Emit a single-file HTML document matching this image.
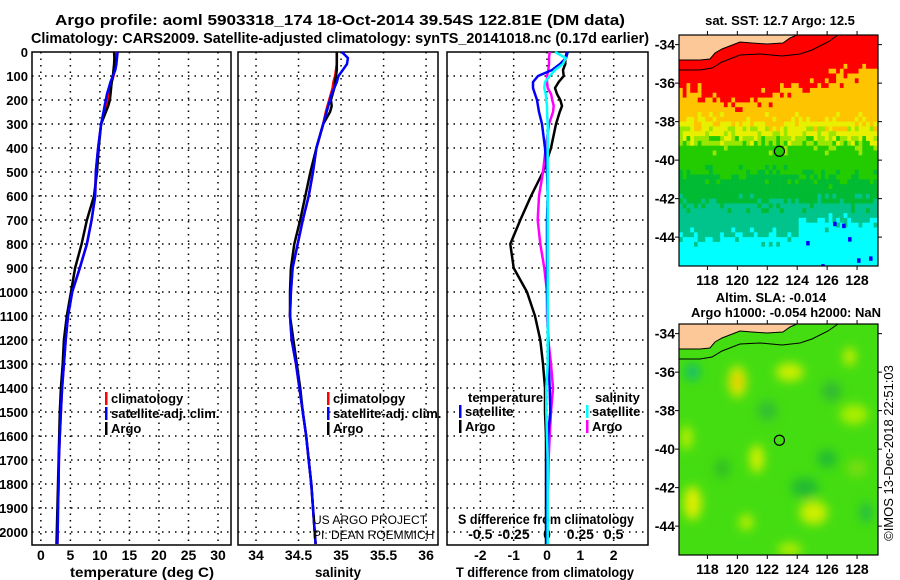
<!DOCTYPE html>
<html><head><meta charset="utf-8"><style>
html,body{margin:0;padding:0;background:#fff;}
svg{display:block;font-family:"Liberation Sans",Arial,sans-serif;}
.b{font-weight:bold;}
</style></head><body>
<svg id="c" width="900" height="580" viewBox="0 0 900 580"></svg>
<script>
const depths=[0,25,50,75,100,125,150,175,200,225,250,300,400,500,600,700,800,900,1000,1100,1200,1300,1400,1500,1600,1700,1800,1900,2000,2050];
const tempArgo=[12.4,12.45,12.4,12.3,12.2,12.0,11.9,11.8,11.7,11.4,11.0,10.2,9.8,9.5,9.0,7.8,6.9,5.8,5.1,4.4,3.9,3.7,3.4,3.2,3.1,3.0,2.9,2.8,2.7,2.65];
const tempClim=[12.8,12.7,12.6,12.5,12.3,12.0,11.8,11.6,11.3,11.0,10.8,10.2,9.7,9.3,9.2,8.6,7.8,6.6,5.3,4.6,4.2,3.9,3.6,3.4,3.2,3.05,3.0,2.9,2.85,2.8];
const tempSat=[13.0,12.9,12.8,12.6,12.2,11.8,11.5,11.2,11.0,10.8,10.6,10.2,9.7,9.3,9.2,8.6,7.8,6.6,5.3,4.6,4.2,3.9,3.6,3.4,3.2,3.05,3.0,2.9,2.85,2.8];
const salArgo=[34.95,34.95,34.95,34.95,34.94,34.93,34.92,34.90,34.88,34.89,34.87,34.79,34.71,34.64,34.58,34.52,34.45,34.41,34.40,34.40,34.44,34.48,34.52,34.55,34.59,34.62,34.65,34.67,34.69,34.70];
const salClim=[34.95,34.95,34.95,34.94,34.93,34.91,34.90,34.88,34.86,34.84,34.82,34.79,34.71,34.67,34.62,34.55,34.49,34.43,34.41,34.40,34.42,34.47,34.51,34.55,34.59,34.62,34.65,34.67,34.69,34.70];
const salSat=[35.01,35.08,35.07,35.02,34.97,34.95,34.92,34.89,34.87,34.85,34.83,34.79,34.71,34.67,34.62,34.55,34.49,34.43,34.41,34.40,34.42,34.47,34.51,34.55,34.59,34.62,34.65,34.67,34.69,34.70];
const dTArgo=[0.6,0.55,0.55,0.48,0.5,0.35,0.24,0.3,0.4,0.45,0.38,0.27,0.12,-0.12,-0.48,-0.8,-1.1,-1.0,-0.6,-0.36,-0.2,-0.12,-0.06,-0.06,-0.03,-0.03,-0.03,-0.03,-0.03,-0.03];
const dTSat=[0.62,0.57,0.39,0.15,-0.27,-0.42,-0.42,-0.36,-0.3,-0.27,-0.24,-0.15,-0.06,0.0,0.02,0.0,0.0,0.0,0.0,0.02,0.03,0.05,0.08,0.1,0.03,0.0,0.0,0.0,0.0,0.0];
const dSArgo=[0.02,0.015,0.015,0.01,0.0,0.0,0.005,0.03,0.04,0.05,0.045,0.015,-0.01,-0.03,-0.06,-0.07,-0.05,-0.02,0.0,0.0,0.01,0.03,0.045,0.03,0.02,0.012,0.008,0.0,0.0,0.0];
const dSSat=[0.06,0.14,0.12,0.06,0.02,-0.015,-0.02,-0.01,-0.005,0.0,0.0,0.005,0.005,0.005,0.005,0.005,0.005,0.005,0.005,0.005,0.005,0.005,-0.005,-0.005,0.0,0.005,0.005,0.005,0.005,0.005];
const depthTicks=[0,100,200,300,400,500,600,700,800,900,1000,1100,1200,1300,1400,1500,1600,1700,1800,1900,2000];
const tempTicks=[0,5,10,15,20,25,30];
const salTicks=[34,34.5,35,35.5,36];
const dTTicks=[-2,-1,0,1,2];
const dSTicks=[-0.5,-0.25,0,0.25,0.5];
const lonTicks=[118,120,122,124,126,128];
const latTicks=[-34,-36,-38,-40,-42,-44];
const argoPos=[122.81,-39.54];

const NS="http://www.w3.org/2000/svg";
const svg=document.getElementById('c');
function mk(tag,attrs,parent){const e=document.createElementNS(NS,tag);for(const k in attrs)e.setAttribute(k,attrs[k]);(parent||svg).appendChild(e);return e;}
function txt(s,x,y,attrs,parent){const e=mk('text',Object.assign({x:x,y:y,'font-size':13},attrs||{}),parent);e.textContent=s;return e;}

const TOP=52,BOT=545;
function yD(d){return TOP+d*0.24;}
const panels=[
 {x0:32,x1:231,xmin:-1.5,xmax:32.2},
 {x0:238,x1:438,xmin:33.788,xmax:36.14},
 {x0:447,x1:648,xmin:-3.0,xmax:3.03}
];
function xP(p,v){return p.x0+(v-p.xmin)/(p.xmax-p.xmin)*(p.x1-p.x0);}
function xS(v){return xP(panels[2],v*4);}

let t=txt('Argo profile: aoml 5903318_174 18-Oct-2014 39.54S 122.81E (DM data)',340,25,{'text-anchor':'middle','font-size':15,class:'b',textLength:570,lengthAdjust:'spacingAndGlyphs'});


t=txt('Climatology: CARS2009. Satellite-adjusted climatology: synTS_20141018.nc (0.17d earlier)',340,43,{'text-anchor':'middle','font-size':15,class:'b',textLength:618,lengthAdjust:'spacingAndGlyphs'});



const names=['temperature-panel','salinity-panel','difference-panel'];
panels.forEach((p,i)=>{
  const g=mk('g',{});
  
  
  depthTicks.forEach(d=>{ if(d>0) mk('line',{x1:p.x0,x2:p.x1,y1:yD(d),y2:yD(d),stroke:'#000','stroke-width':1.5,'stroke-dasharray':'1.5,5'},g);});
  const xt=i==0?tempTicks:i==1?salTicks:dTTicks;
  xt.forEach(v=>{const x=xP(p,v);mk('line',{x1:x,x2:x,y1:TOP,y2:BOT,stroke:'#000','stroke-width':1.5,'stroke-dasharray':'1.5,5'},g);
    const l=txt(String(v),x,560,{'text-anchor':'middle','font-size':14,class:'b'},g);
    
    });
  mk('rect',{x:p.x0,y:TOP,width:p.x1-p.x0,height:BOT-TOP,fill:'none',stroke:'#000','stroke-width':1.5},g);
});
depthTicks.forEach(d=>{const l=txt(String(d),28,yD(d)+5,{'text-anchor':'end','font-size':13,class:'b'});
  
  });
const xl=[['temperature (deg C)',142,144],['salinity',338,46],['T difference from climatology',545,178]];
xl.forEach(a=>{const l=txt(a[0],a[1],577,{'text-anchor':'middle','font-size':14,class:'b',textLength:a[2],lengthAdjust:'spacingAndGlyphs'});
  
  });
dSTicks.forEach(v=>{const l=txt(String(v),xS(v),539,{'text-anchor':'middle','font-size':14,class:'b'});
  
  });
t=txt('S difference from climatology',546,524,{'text-anchor':'middle','font-size':14,class:'b',textLength:176,lengthAdjust:'spacingAndGlyphs'});



function line(vals,xf,color,name){
  const pts=vals.map((v,k)=>xf(v).toFixed(1)+','+yD(depths[k]).toFixed(1)).join(' ');
  const e=mk('polyline',{points:pts,fill:'none',stroke:color,'stroke-width':2.5,'stroke-linejoin':'round'});
  
  
}
const p0=panels[0],p1=panels[1],p2=panels[2];
line(tempClim,v=>xP(p0,v),'#ff0000','temp-climatology-line');
line(tempArgo,v=>xP(p0,v),'#000000','temp-argo-line');
line(tempSat,v=>xP(p0,v),'#0000ff','temp-satellite-line');
line(salClim,v=>xP(p1,v),'#ff0000','sal-climatology-line');
line(salArgo,v=>xP(p1,v),'#000000','sal-argo-line');
line(salSat,v=>xP(p1,v),'#0000ff','sal-satellite-line');
line(dTArgo,v=>xP(p2,v),'#000000','tdiff-argo-line');
line(dSArgo,v=>xS(v),'#ff00ff','sdiff-argo-line');
line(dTSat,v=>xP(p2,v),'#0000ff','tdiff-satellite-line');
line(dSSat,v=>xS(v),'#00ffff','sdiff-satellite-line');

function legend(x,y,items,name){
  const g=mk('g',{});
  
  
  items.forEach((it,k)=>{
    const yy=y+k*15;
    if(it[1]) mk('rect',{x:x,y:yy-11,width:2.5,height:13,fill:it[1]},g);
    const l=txt(it[0],it[1]?x+6:x,yy,{'font-size':13,class:'b'},g);
    
    
  });
}
legend(105,403,[['climatology','#f00'],['satellite-adj. clim.','#00f'],['Argo','#000']],'temp-legend');
legend(327,403,[['climatology','#f00'],['satellite-adj. clim.','#00f'],['Argo','#000']],'sal-legend');
legend(468,402,[['temperature',null]],'tdiff-legend-title');
legend(459,416,[['satellite','#00f'],['Argo','#000']],'tdiff-legend');
legend(595,402,[['salinity',null]],'sdiff-legend-title');
legend(586,416,[['satellite','#0ff'],['Argo','#f0f']],'sdiff-legend');
t=txt('US ARGO PROJECT',313,524,{'font-size':12});


t=txt('PI: DEAN ROEMMICH',313,539,{'font-size':12});



const M={x0:679,x1:878,lonMin:116.1,lonMax:129.4,latTop:-33.5,latBot:-45.5};
function mx(lon){return M.x0+(lon-M.lonMin)/(M.lonMax-M.lonMin)*(M.x1-M.x0);}
function my(lat,off){return off+(M.latTop-lat)/(M.latTop-M.latBot)*231;}
function hash(i,j){let h=(i*374761393+j*668265263)^0x5bd1e995;h=(h^(h>>>13))*1274126177;h=h^(h>>>16);return ((h>>>0)%1000)/1000;}
const sstColors=['#ff0000','#ffc400','#e8f000','#99e600','#22cc00','#00bb33','#00c48c','#00ffff'];
function sstBand(lon,lat,n){
  const rb=lon<120?-36.2-(lon-116)*0.25:-37.2+(lon-120)*0.22;
  const b=[rb,-38.0,-38.7,-39.2,-40.7+ -0.02*(lon-116),-42.2,-43.4+(lon<124?-0.6:0.2)];
  const L=lat+n;
  for(let k=0;k<b.length;k++){ if(L>b[k]) return k; }
  return 7;
}
const landPts='679,35 679,60 700,60 710,59 715,53 722,49 740,42 752,43 767,44 783,43 790,38 797,35';
const shelfPts='679,70 700,70 712,68 722,62 740,55 760,54 782,56 800,54 812,50 828,42 838,35';

function drawMap(off,kind,name){
  const g=mk('g',{});
  
  
  const cid='clip'+off;
  const cp=mk('clipPath',{id:cid},g);
  mk('rect',{x:M.x0,y:off,width:M.x1-M.x0,height:231},cp);
  const inner=mk('g',{'clip-path':'url(#'+cid+')'},g);
  if(kind==='sst'){
    const dl=0.25;
    for(let i=0;i<54;i++){for(let j=0;j<49;j++){
      const lon=M.lonMin+i*dl, lat=M.latTop-j*dl;
      const h=hash(i,j);
      const n=(h-0.5)*1.1*(h>0.75||h<0.25?1:0.3);
      const k=sstBand(lon+dl/2,lat-dl/2,n);
      mk('rect',{x:mx(lon).toFixed(2),y:my(lat,off).toFixed(2),width:(mx(lon+dl)-mx(lon)+0.4).toFixed(2),height:(my(lat-dl,off)-my(lat,off)+0.4).toFixed(2),fill:sstColors[k]},inner);
    }}
    [[126.4,-43.2],[127.0,-43.3],[124.6,-44.2],[127.4,-44],[128.8,-45],[128.0,-45.1],[125.6,-45.4]].forEach(p=>mk('rect',{x:mx(p[0]),y:my(p[1],off),width:3.5,height:4.5,fill:'#0000ff'},inner));
  } else {
    const fid='blur'+off;
    const f=mk('filter',{id:fid,x:'-50%',y:'-50%',width:'200%',height:'200%'},g);
    mk('feGaussianBlur',{stdDeviation:5},f);
    mk('rect',{x:M.x0,y:off,width:M.x1-M.x0,height:231,fill:'#44dd11'},inner);
    const bg=mk('g',{filter:'url(#'+fid+')'},inner);
    const blobs=[[120,-36.5,9,16,'#d8e800'],[120,-36.5,4,7,'#f0c000'],[123.5,-36,14,9,'#ccee00'],[121.3,-40.5,7,14,'#d4f000'],[117,-42.8,9,17,'#ddee00'],[125.1,-43.3,14,12,'#ccee00'],[116.6,-39.4,6,12,'#bbee00'],[127.5,-35.2,6,9,'#ccee00'],[127.8,-38.2,14,10,'#aaee00'],[120.6,-43.8,7,8,'#bbee00'],[123.5,-45.2,12,6,'#bbee00'],[128,-41,10,9,'#77dd11'],
      [117,-36,7,8,'#11bb77'],[124.5,-42,14,10,'#22bb33'],[126,-40.5,10,9,'#22bb33'],[126.3,-37,10,10,'#33bb33'],[122,-38,10,10,'#33c033'],[119,-41,8,10,'#33c022'],[128.6,-43.3,6,10,'#22bb44']];
    blobs.forEach(b=>mk('ellipse',{cx:mx(b[0]),cy:my(b[1],off),rx:b[2],ry:b[3],fill:b[4]},bg));
  }
  mk('polygon',{points:landPts.split(' ').map(s=>{const a=s.split(',');return a[0]+','+(+a[1]-35+off);}).join(' '),fill:'#fdc898',stroke:'#000','stroke-width':1},inner);
  mk('polyline',{points:shelfPts.split(' ').map(s=>{const a=s.split(',');return a[0]+','+(+a[1]-35+off);}).join(' '),fill:'none',stroke:'#000','stroke-width':1},inner);
  const mk1=mk('circle',{cx:mx(argoPos[0]),cy:my(argoPos[1],off),r:5,fill:'none',stroke:'#000','stroke-width':1.2},g);
  
  
  mk('rect',{x:M.x0,y:off,width:M.x1-M.x0,height:231,fill:'none',stroke:'#000','stroke-width':1.2},g);
  lonTicks.forEach(v=>{const x=mx(v);mk('line',{x1:x,x2:x,y1:off,y2:off-4,stroke:'#000'},g);mk('line',{x1:x,x2:x,y1:off+231,y2:off+235,stroke:'#000'},g);
    const l=txt(String(v),x,off+250,{'text-anchor':'middle','font-size':14,class:'b'},g);
    
    });
  latTicks.forEach(v=>{const y=my(v,off);mk('line',{x1:M.x0,x2:M.x0-4,y1:y,y2:y,stroke:'#000'},g);mk('line',{x1:M.x1,x2:M.x1+4,y1:y,y2:y,stroke:'#000'},g);
    const l=txt(String(v),675,y+5,{'text-anchor':'end','font-size':14,class:'b'},g);
    
    });
}
drawMap(35,'sst','sst-map');
drawMap(324,'sla','sla-map');
t=txt('sat. SST: 12.7 Argo: 12.5',780,25,{'text-anchor':'middle','font-size':13,class:'b'});


t=txt('Altim. SLA: -0.014',771,302,{'text-anchor':'middle','font-size':13,class:'b'});


t=txt('Argo h1000: -0.054 h2000: NaN',786,317,{'text-anchor':'middle','font-size':13,class:'b'});


t=txt('©IMOS 13-Dec-2018 22:51:03',0,0,{'text-anchor':'middle','font-size':13,transform:'translate(893,453) rotate(-90)'});


</script>
</body></html>
